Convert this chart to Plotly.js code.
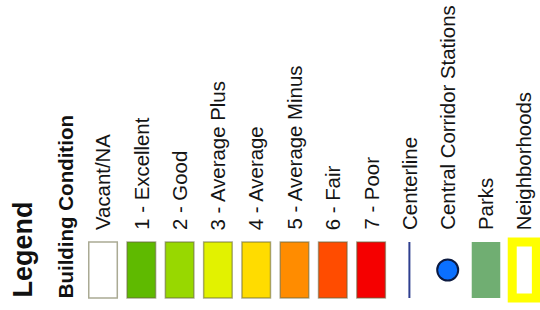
<!DOCTYPE html>
<html>
<head>
<meta charset="utf-8">
<script src="https://cdn.plot.ly/plotly-3.0.1.min.js"></script>
<style>html,body{margin:0;padding:0;background:#fff;}#chart{width:540px;height:310px;}</style>
</head>
<body>
<div id="chart"></div>
<script>
// Legend content
const legendTitle = 'Legend';
const groupTitle = 'Building Condition';
const conditionLabels = ['Vacant/NA', '1 - Excellent', '2 - Good', '3 - Average Plus', '4 - Average', '5 - Average Minus', '6 - Fair', '7 - Poor'];
const conditionColors = ['#ffffff', '#5fba00', '#98d800', '#e2f200', '#ffdc00', '#ff8c00', '#ff4c00', '#f50000'];
const lineLabel = 'Centerline';
const lineColor = '#2f3f8f';
const pointLabel = 'Central Corridor Stations';
const pointColor = '#0a70ff';
const areaLabels = ['Parks', 'Neighborhoods'];
const areaFills = ['#70ae72', '#ffffff'];
const areaBorders = ['#70ae72', '#ffff00'];

// Layout of the items (slot index along x)
const nCond = conditionLabels.length;
const lineSlot = nCond;
const pointSlot = nCond + 1;
const areaSlots = areaLabels.map((_, i) => nCond + 2 + i);
const condSlots = conditionLabels.map((_, i) => i);

const SW_TOP = 242, SW_H = 56;
const FONT = 'Liberation Sans, Arial, sans-serif';

const traces = [
  {
    type: 'bar', x: condSlots, y: condSlots.map(() => SW_H), base: SW_TOP,
    width: 0.745,
    marker: {color: conditionColors, line: {color: 'rgba(100,100,60,0.55)', width: 1.5}},
    hoverinfo: 'skip'
  },
  {
    type: 'bar', x: areaSlots, y: areaSlots.map(() => SW_H), base: SW_TOP,
    width: [0.745, 0.63],
    marker: {color: areaFills, line: {color: areaBorders, width: [0, 9]}},
    hoverinfo: 'skip'
  },
  {
    type: 'scatter', mode: 'lines', x: [lineSlot, lineSlot], y: [SW_TOP, SW_TOP + SW_H],
    line: {color: lineColor, width: 2}, hoverinfo: 'skip'
  },
  {
    type: 'scatter', mode: 'markers', x: [pointSlot], y: [SW_TOP + SW_H / 2],
    marker: {color: pointColor, size: 21, line: {color: '#0c1a40', width: 2}}, hoverinfo: 'skip'
  }
];

const allLabels = conditionLabels.concat([lineLabel, pointLabel], areaLabels);
const annotations = allLabels.map((t, i) => ({
  text: t, x: i, y: 232, xref: 'x', yref: 'y', xanchor: 'center', yanchor: 'bottom',
  textangle: -90, showarrow: false, font: {family: FONT, size: 20.4, color: '#151515'}
}));
annotations.push({
  text: '<b>' + legendTitle + '</b>', x: -2.1, y: 300, xref: 'x', yref: 'y', xanchor: 'center', yanchor: 'bottom',
  textangle: -90, showarrow: false, font: {family: FONT, size: 27, color: '#111'}
});
annotations.push({
  text: '<b>' + groupTitle + '</b>', x: -0.97, y: 300, xref: 'x', yref: 'y', xanchor: 'center', yanchor: 'bottom',
  textangle: -90, showarrow: false, font: {family: FONT, size: 20.5, color: '#111'}
});

const layout = {
  width: 540, height: 310,
  margin: {l: 0, r: 0, t: 0, b: 0, pad: 0},
  paper_bgcolor: '#ffffff', plot_bgcolor: '#ffffff',
  showlegend: false, barmode: 'overlay',
  xaxis: {range: [-2.69, 11.41], visible: false, fixedrange: true},
  yaxis: {range: [310, 0], visible: false, fixedrange: true},
  annotations: annotations
};

Plotly.newPlot('chart', traces, layout, {displayModeBar: false, staticPlot: true});
</script>
</body>
</html>
